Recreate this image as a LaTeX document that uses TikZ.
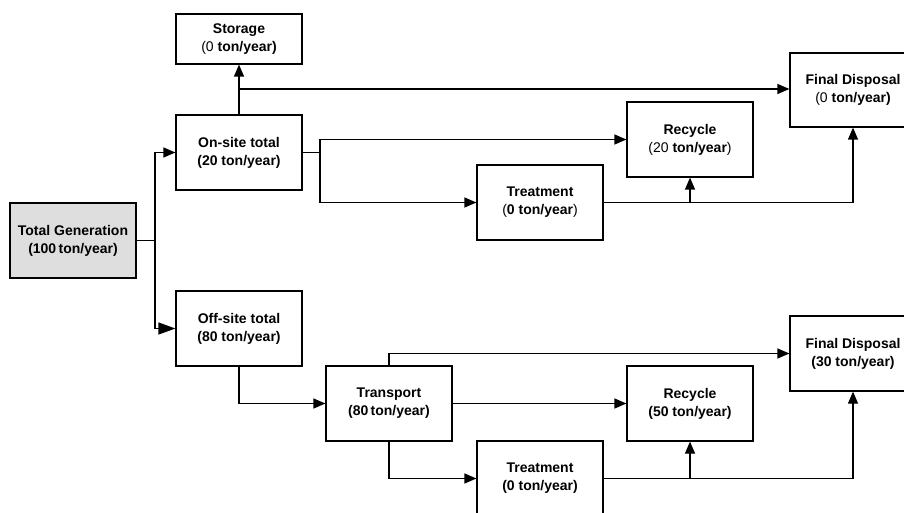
\documentclass[tikz,border=0pt]{standalone}
\usepackage{fontspec}
\setmainfont{Liberation Sans}
\usetikzlibrary{arrows.meta}
\definecolor{gengray}{RGB}{222,222,222}
\begin{document}
\begin{tikzpicture}[x=1pt,y=-1pt,
  font=\fontsize{14}{18}\selectfont,
  box/.style={draw=black, line width=1.2pt, minimum width=126pt, minimum height=75pt,
    inner sep=0pt, align=center, anchor=center},
  link/.style={line width=1.2pt},
  flow/.style={-{Triangle[length=12pt,width=10pt]}, line width=1.2pt},
  bigflow/.style={-{Triangle[length=17pt,width=12pt]}, line width=1.2pt}]
\useasboundingbox (0,0) rectangle (904,513);
\clip (0,0) rectangle (904,513);
\fill[white] (0,0) rectangle (904,513);

% source and first split
\node[box, fill=gengray] (gen) at (73,240.5) {\textbf{Total Generation}\\\textbf{(100\,ton/year)}};
\node[box] (onsite) at (239,152.5) {\textbf{On-site total}\\\textbf{(20 ton/year)}};
\node[box] (offsite) at (239,328.5) {\textbf{Off-site total}\\\textbf{(80 ton/year)}};

% on-site branch
\node[box, minimum height=50pt] (storage) at (239,39) {\textbf{Storage}\\(0 \textbf{ton/year)}};
\node[box, minimum height=74pt] (fd1) at (853,90) {\textbf{Final Disposal}\\(0 \textbf{ton/year)}};
\node[box] (rec1) at (690,139.5) {\textbf{Recycle}\\(20 \textbf{ton/year})};
\node[box] (treat1) at (540,202.5) {\textbf{Treatment}\\(\textbf{0 ton/year})};

% off-site branch
\node[box] (trans) at (389,403.5) {\textbf{Transport}\\\textbf{(80\,ton/year)}};
\node[box] (fd2) at (853,353.5) {\textbf{Final Disposal}\\\textbf{(30 ton/year)}};
\node[box] (rec2) at (690,403.5) {\textbf{Recycle}\\\textbf{(50 ton/year)}};
\node[box] (treat2) at (540,478.5) {\textbf{Treatment}\\\textbf{(0 ton/year)}};

% junction points
\coordinate (jgen) at (155,240.5);
\coordinate (jstore) at (239,89);
\coordinate (jon) at (320,152.5);

% generation split
\draw[link] (gen.east) -- (jgen);
\draw[flow] (jgen) |- (onsite.west);
\draw[bigflow] (jgen) |- (offsite.west);

% on-site flows
\draw[flow] (onsite.north) -- (storage.south);
\draw[flow] (jstore) -- (jstore -| fd1.west);
\draw[link] (onsite.east) -- (jon);
\draw[flow] (jon) |- (rec1.west);
\draw[flow] (jon) |- (treat1.west);
\draw[flow] (treat1.east) -| (fd1.south);
\draw[flow] (treat1.east -| rec1.south) -- (rec1.south);

% off-site flows
\draw[flow] (offsite.south) |- (trans.west);
\draw[flow] (trans.north) |- (fd2.west);
\draw[flow] (trans.east) -- (rec2.west);
\draw[flow] (trans.south) |- (treat2.west);
\draw[flow] (treat2.east) -| (fd2.south);
\draw[flow] (treat2.east -| rec2.south) -- (rec2.south);
\end{tikzpicture}
\end{document}
